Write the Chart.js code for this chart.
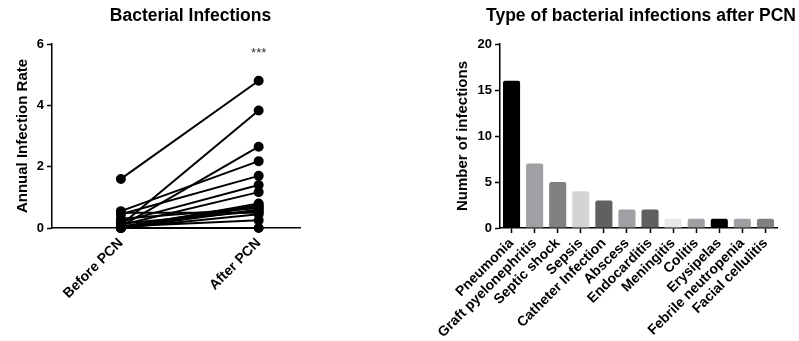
<!DOCTYPE html>
<html>
<head>
<meta charset="utf-8">
<script src="https://cdn.jsdelivr.net/npm/chart.js@4.4.0/dist/chart.umd.min.js"></script>
<style>
  body { margin: 0; background: #fff; }
  #wrap { position: relative; width: 799px; height: 341px; }
  canvas { position: absolute; top: 0; }
  #rateChart { left: 0; }
  #typeChart { left: 400px; }
</style>
</head>
<body>
<div id="wrap">
  <canvas id="rateChart" width="400" height="341"></canvas>
  <canvas id="typeChart" width="399" height="341"></canvas>
</div>
<script>
// left panel: paired annual infection rates per patient
const periods = ['Before PCN', 'After PCN'];
const beforePCN = [1.6, 0.1, 0.05, 0.55, 0.45, 0.5, 0.2, 0.1, 0, 0.05, 0, 0.3, 0, 0.15, 0, 0.05, 0];
const afterPCN = [4.8, 3.83, 2.65, 2.18, 1.7, 0.5, 1.4, 1.17, 0.8, 0.75, 0.7, 0.65, 0.6, 0.55, 0.45, 0.25, 0];
const rateTicks = [0, 2, 4, 6];

// right panel: infection types after PCN
const infectionTypes = ['Pneumonia', 'Graft pyelonephritis', 'Septic shock', 'Sepsis', 'Catheter Infection',
  'Abscess', 'Endocarditis', 'Meningitis', 'Colitis', 'Erysipelas', 'Febrile neutropenia', 'Facial cellulitis'];
const infectionCounts = [16, 7, 5, 4, 3, 2, 2, 1, 1, 1, 1, 1];
const barColors = ['#000000', '#a0a0a4', '#808080', '#d4d4d4', '#606060', '#a0a0a4',
  '#606060', '#e8e8e8', '#a0a0a4', '#000000', '#a0a0a4', '#808080'];

Chart.defaults.font.family = "'Liberation Sans', Arial, sans-serif";
Chart.defaults.color = '#000';

const yTickFont = { size: 13, weight: 'bold' };
const xTickFont = { size: 14, weight: 'bold' };
const axisTitleFont = { size: 15, weight: 'bold' };

// chart heading drawn at a chosen centre
const headline = {
    id: 'headline',
    afterDraw(chart, args, opts) {
        const ctx = chart.ctx;
        ctx.save();
        ctx.font = "bold 17.5px 'Liberation Sans', Arial, sans-serif";
        ctx.fillStyle = '#000';
        ctx.textAlign = 'center';
        ctx.textBaseline = 'middle';
        ctx.fillText(opts.text, opts.x, opts.y);
        ctx.restore();
    }
};

// significance stars over "After PCN"
const stars = {
    id: 'stars',
    afterDatasetsDraw(chart) {
        const ctx = chart.ctx;
        const x = chart.scales.x.getPixelForValue(1);
        const y = chart.scales.y.getPixelForValue(5.7);
        ctx.save();
        ctx.font = "13px 'Liberation Sans', Arial, sans-serif";
        ctx.fillStyle = '#333';
        ctx.textAlign = 'center';
        ctx.textBaseline = 'middle';
        ctx.fillText('***', x, y);
        ctx.restore();
    }
};

const rateDatasets = beforePCN.map((b, i) => ({
    data: [{ x: 0, y: b }, { x: 1, y: afterPCN[i] }],
    borderColor: '#000',
    backgroundColor: '#000',
    borderWidth: 2,
    pointRadius: 4,
    pointHoverRadius: 4,
    clip: false
}));

new Chart(document.getElementById('rateChart'), {
    type: 'line',
    data: { datasets: rateDatasets },
    options: {
        responsive: false,
        animation: false,
        layout: { padding: { top: 44, right: 100, bottom: 0, left: 0 } },
        scales: {
            x: {
                type: 'linear',
                min: -0.5,
                max: 1.3,
                afterBuildTicks: (scale) => { scale.ticks = periods.map((_, i) => ({ value: i })); },
                afterFit: (scale) => { scale.height = 113; },
                grid: { display: true, drawOnChartArea: false, tickLength: 5, tickColor: '#000', tickWidth: 1.5 },
                border: { color: '#000', width: 1.5 },
                ticks: {
                    autoSkip: false,
                    maxRotation: 45,
                    minRotation: 45,
                    padding: 2,
                    font: xTickFont,
                    callback: (v) => periods[v]
                }
            },
            y: {
                min: 0,
                max: 6,
                afterBuildTicks: (scale) => { scale.ticks = rateTicks.map(v => ({ value: v })); },
                afterFit: (scale) => { scale.width = 52; },
                grid: { display: true, drawOnChartArea: false, tickLength: 5, tickColor: '#000', tickWidth: 1.5 },
                border: { color: '#000', width: 1.5 },
                ticks: { padding: 3, font: yTickFont },
                title: { display: true, text: 'Annual Infection Rate', font: axisTitleFont, padding: { top: 14, bottom: 0 } }
            }
        },
        plugins: {
            legend: { display: false },
            tooltip: { enabled: false },
            headline: { text: 'Bacterial Infections', x: 190.5, y: 16 }
        }
    },
    plugins: [headline, stars]
});

new Chart(document.getElementById('typeChart'), {
    type: 'bar',
    data: {
        labels: infectionTypes,
        datasets: [{
            data: infectionCounts,
            backgroundColor: barColors,
            borderRadius: 2,
            borderSkipped: 'bottom',
            categoryPercentage: 1,
            barPercentage: 0.74
        }]
    },
    options: {
        responsive: false,
        animation: false,
        layout: { padding: { top: 44, right: 22, bottom: 0, left: 0 } },
        scales: {
            x: {
                afterFit: (scale) => { scale.height = 113; },
                grid: { display: true, drawOnChartArea: false, offset: false, tickLength: 5, tickColor: '#000', tickWidth: 1.5 },
                border: { color: '#000', width: 1.5 },
                ticks: { autoSkip: false, maxRotation: 45, minRotation: 45, padding: 2, font: xTickFont }
            },
            y: {
                min: 0,
                max: 20,
                ticks: { stepSize: 5, padding: 3, font: yTickFont },
                afterFit: (scale) => { scale.width = 100; },
                grid: { display: true, drawOnChartArea: false, tickLength: 5, tickColor: '#000', tickWidth: 1.5 },
                border: { color: '#000', width: 1.5 },
                title: { display: true, text: 'Number of infections', font: axisTitleFont, padding: { top: 54, bottom: 0 } }
            }
        },
        plugins: {
            legend: { display: false },
            tooltip: { enabled: false },
            headline: { text: 'Type of bacterial infections after PCN', x: 241, y: 16 }
        }
    },
    plugins: [headline]
});
</script>
</body>
</html>
